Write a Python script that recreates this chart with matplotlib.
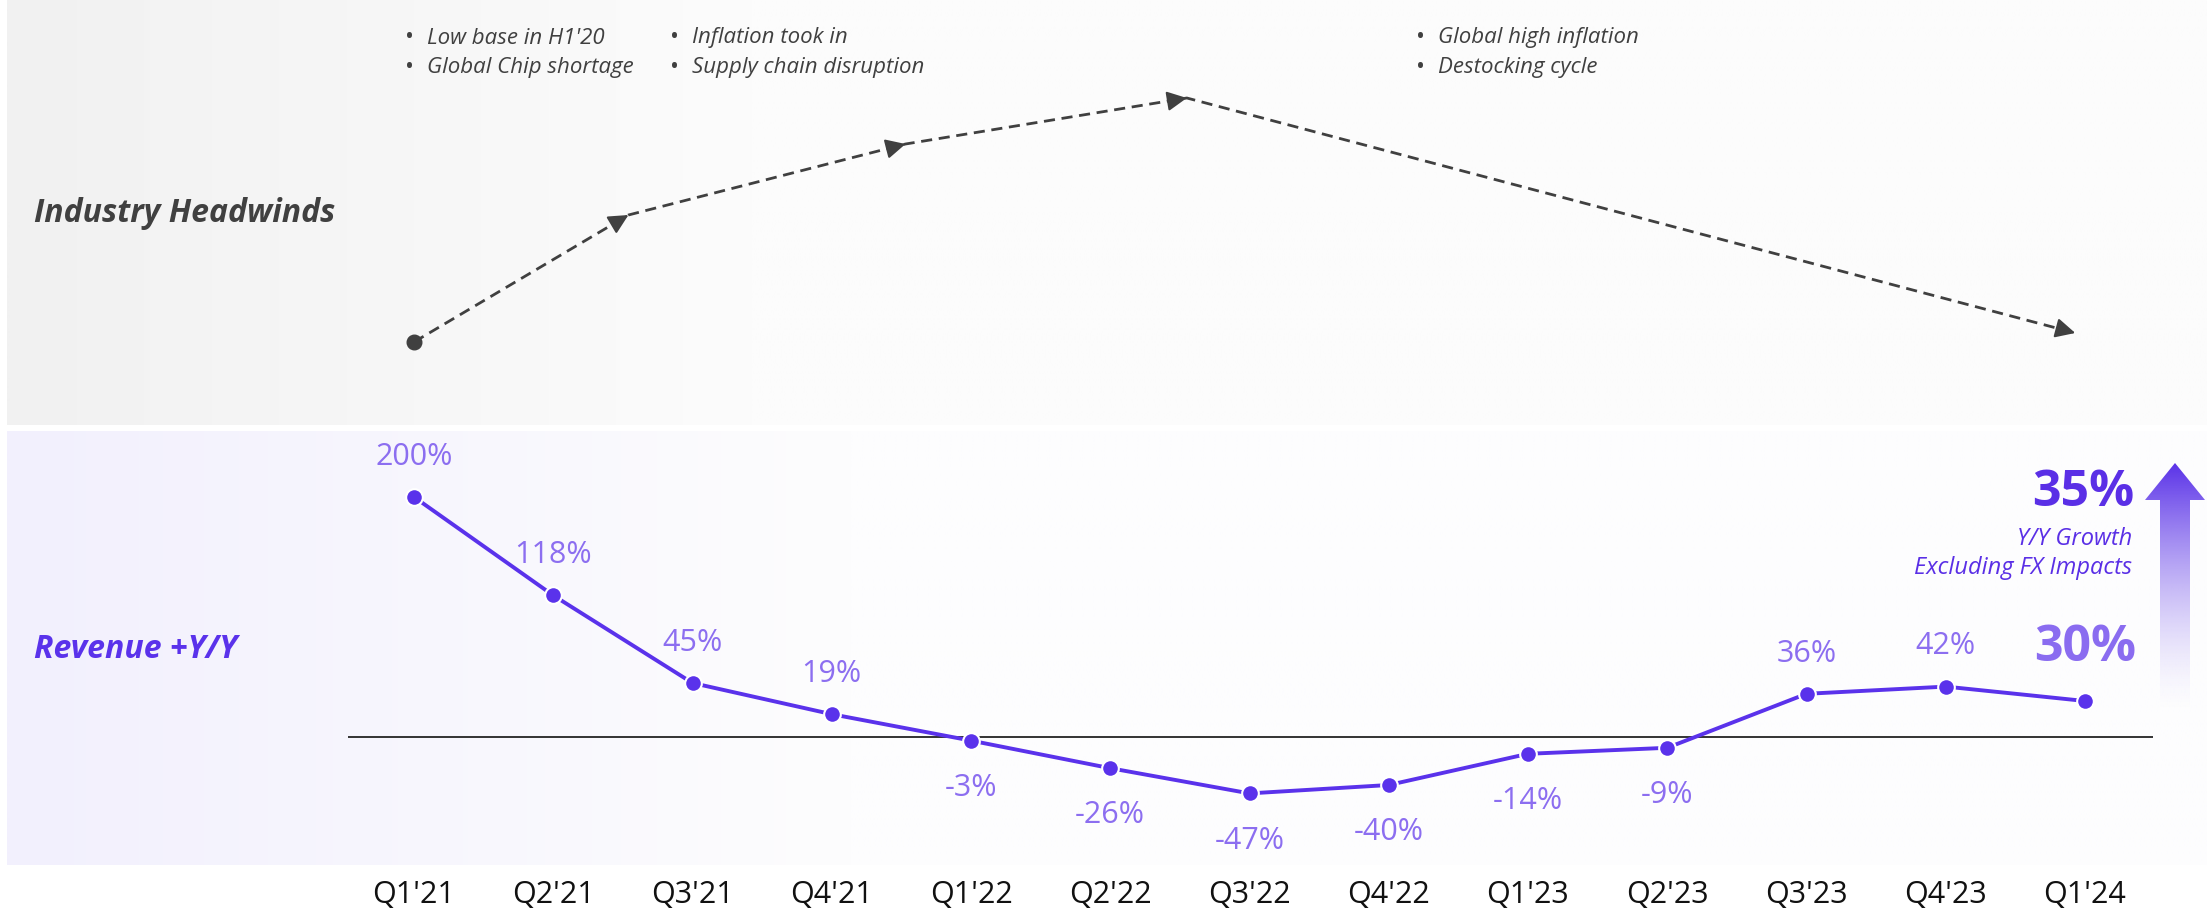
import numpy as np
import matplotlib
matplotlib.use("Agg")
import matplotlib.pyplot as plt
from matplotlib.patches import Polygon
from matplotlib.colors import to_rgb

plt.rcParams['font.family'] = ['Open Sans', 'DejaVu Sans']

# data
quarters = ["Q1'21", "Q2'21", "Q3'21", "Q4'21", "Q1'22", "Q2'22", "Q3'22",
            "Q4'22", "Q1'23", "Q2'23", "Q3'23", "Q4'23", "Q1'24"]
revenue_yy = [200, 118, 45, 19, -3, -26, -47, -40, -14, -9, 36, 42, 30]
fx_growth = 35
# headwind path (x in quarter index, y as relative level)
hw_x = [0, 1.54, 3.53, 5.55, 11.93]
hw_y = [83, 210, 281, 327, 92]
notes = [
    (["Low base in H1'20", "Global Chip shortage"], 405),
    (["Inflation took in", "Supply chain disruption"], 670),
    (["Global high inflation", "Destocking cycle"], 1416),
]

W, H = 2207, 914
PURPLE = '#5a32eb'
LABEL = '#8c6ef0'
DARK = '#404040'

fig = plt.figure(figsize=(W / 100, H / 100), dpi=100)

# background panels (pixel coords)
bg = fig.add_axes([0, 0, 1, 1], zorder=-5)
bg.set_xlim(0, W)
bg.set_ylim(H, 0)
bg.axis('off')


def hgrad(c0, c1, x0, x1, y0, y1, fade_end):
    xs = np.linspace(x0, x1, 400)
    t = np.clip((xs - x0) / (fade_end - x0), 0, 1)[None, :, None]
    a, b = np.array(to_rgb(c0)), np.array(to_rgb(c1))
    img = a * (1 - t) + b * t
    bg.imshow(img, extent=(x0, x1, y1, y0), aspect='auto', interpolation='bilinear')


hgrad('#f1f1f1', '#fcfcfc', 7, W, 0, 425, 750)
hgrad('#f2f0fd', '#fdfdfe', 7, W, 431, 865, 850)

# gradient arrow on the right
arrow_pts = [(2160, 715), (2160, 500), (2145, 500), (2175, 463), (2205, 500),
             (2190, 500), (2190, 715)]
ys = np.linspace(463, 715, 300)
alpha = np.clip((715 - ys) / 252, 0, 1) ** 1.6
grad = np.zeros((300, 2, 4))
grad[:, :, :3] = to_rgb('#5a32e8')
grad[:, :, 3] = alpha[:, None]
im = bg.imshow(grad, extent=(2145, 2205, 715, 463), aspect='auto', interpolation='bilinear')
poly = Polygon(arrow_pts, closed=True, facecolor='none', edgecolor='none')
bg.add_patch(poly)
im.set_clip_path(poly)

bg.text(34, 214, 'Industry Headwinds', fontsize=23, fontweight='bold', fontstyle='italic',
        color=DARK, va='center', ha='left')
bg.text(34, 650, 'Revenue +Y/Y', fontsize=23, fontweight='bold', fontstyle='italic',
        color=PURPLE, va='center', ha='left')

for lines, bx in notes:
    for i, line in enumerate(lines):
        yy = 38 + 30 * i
        bg.text(bx, yy, '\u2022', fontsize=17, color=DARK, va='center', ha='left')
        bg.text(bx + 22, yy, line, fontsize=16, fontstyle='italic',
                color=DARK, va='center', ha='left')

# headwinds axes
left, right = 348 / W, 2153 / W
x_lo = (348 - 414) / 139.25
x_hi = (2153 - 414) / 139.25
top = fig.add_axes([left, 1 - 425 / H, right - left, 425 / H])
top.set_xlim(x_lo, x_hi)
top.set_ylim(0, 425)
top.axis('off')
top.plot(hw_x, hw_y, color=DARK, lw=2.0, dashes=(4, 2.4))
top.plot(hw_x[0], hw_y[0], 'o', color=DARK, ms=10.5)
for i in range(1, len(hw_x)):
    x0, y0, x1, y1 = hw_x[i - 1], hw_y[i - 1], hw_x[i], hw_y[i]
    top.annotate('', xy=(x1, y1), xytext=(x1 - 0.02 * (x1 - x0), y1 - 0.02 * (y1 - y0)),
                 arrowprops=dict(arrowstyle='-|>,head_length=0.6,head_width=0.3',
                                 color=DARK, lw=1.5, shrinkA=0, shrinkB=0,
                                 mutation_scale=20))

# revenue axes
ax = fig.add_axes([left, 1 - 865 / H, right - left, (865 - 431) / H])
ax.set_xlim(x_lo, x_hi)
ax.set_ylim(-(865 - 737) / 1.2, (737 - 431) / 1.2)
ax.patch.set_alpha(0)
for s in ax.spines.values():
    s.set_visible(False)
ax.set_yticks([])
xpos = np.arange(len(quarters))
ax.set_xticks(xpos)
ax.set_xticklabels(quarters, fontsize=22, color='#111111')
ax.tick_params(axis='x', length=0, pad=11)
ax.axhline(0, color='#333333', lw=1.4, zorder=1)
ax.plot(xpos, revenue_yy, color=PURPLE, lw=2.8, marker='o', ms=12,
        mec='white', mew=1.5, zorder=3)

for i, v in enumerate(revenue_yy):
    if i == len(revenue_yy) - 1:
        ax.annotate(f'{v}%', (i, v), xytext=(0, 38), textcoords='offset points',
                    ha='center', va='center', fontsize=36, fontweight='bold', color='#8a6cf0')
    elif v >= 0:
        ax.annotate(f'{v}%', (i, v), xytext=(0, 29), textcoords='offset points',
                    ha='center', va='center', fontsize=22, color=LABEL)
    else:
        ax.annotate(f'{v}%', (i, v), xytext=(0, -34), textcoords='offset points',
                    ha='center', va='center', fontsize=22, color=LABEL)

bg.text(2134, 493, f'{fx_growth}%', fontsize=36, fontweight='bold', color='#5a2fe6',
        ha='right', va='center')
bg.text(2132, 539, 'Y/Y Growth', fontsize=17, fontstyle='italic', color='#5a2fe6',
        ha='right', va='center')
bg.text(2132, 568, 'Excluding FX Impacts', fontsize=17, fontstyle='italic', color='#5a2fe6',
        ha='right', va='center')

fig.savefig('out.png', dpi=100)
